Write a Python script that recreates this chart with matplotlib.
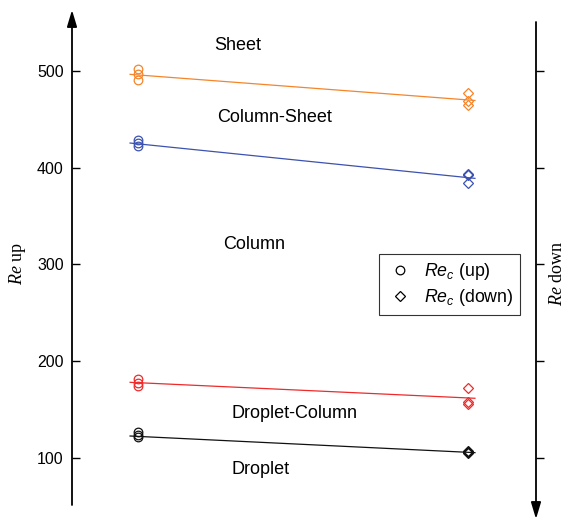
import matplotlib
matplotlib.use("Agg")
import matplotlib.pyplot as plt
from matplotlib.lines import Line2D

plt.rcParams['font.family'] = ['Liberation Sans', 'DejaVu Sans']
plt.rcParams['mathtext.fontset'] = 'custom'
plt.rcParams['mathtext.it'] = 'Liberation Sans:italic'
plt.rcParams['mathtext.rm'] = 'Liberation Sans'
plt.rcParams['mathtext.sf'] = 'Liberation Serif:italic'

# ---- data ----
x_up = 1.0
x_down = 2.0
line_x = [0.976, 2.021]

series_names = ['Sheet', 'Column-Sheet', 'Droplet-Column', 'Droplet']
colors = ['#F5852B', '#3C52AE', '#EE2A2A', '#111111']

sheet_up = [502, 497, 491]
sheet_down = [477, 469, 465]
sheet_line = [496.5, 469.5]

colsheet_up = [429, 425.5, 422.5]
colsheet_down = [393, 392, 384]
colsheet_line = [425.5, 389]

dropcol_up = [182, 178, 174.5]
dropcol_down = [172.5, 158, 155.5]
dropcol_line = [178.2, 161.7]

drop_up = [127, 124, 121.5]
drop_down = [107.5, 106, 105]
drop_line = [122.7, 105.5]

ups = [sheet_up, colsheet_up, dropcol_up, drop_up]
downs = [sheet_down, colsheet_down, dropcol_down, drop_down]
lines = [sheet_line, colsheet_line, dropcol_line, drop_line]

region_labels = ['Sheet', 'Column-Sheet', 'Column', 'Droplet-Column', 'Droplet']
region_pos = [(1.303, 525.8), (1.415, 451.4), (1.352, 321.0), (1.473, 145.5), (1.37, 88.6)]

yticks = [100, 200, 300, 400, 500]

# ---- figure ----
fig = plt.figure(figsize=(5.66, 5.2), dpi=100)
ax = fig.add_axes([72/566, 15/520, 464/566, 483/520])
ax.set_xlim(0.8, 2.206)
ax.set_ylim(51.4, 550.6)

for up, down, ln, c in zip(ups, downs, lines, colors):
    ax.plot(line_x, ln, color=c, lw=0.9, zorder=2)
    ax.plot([x_up]*len(up), up, linestyle='none', marker='o', ms=6.2,
            mfc='none', mec=c, mew=0.9, zorder=3)
    ax.plot([x_down]*len(down), down, linestyle='none', marker='D', ms=5.6,
            mfc='none', mec=c, mew=0.9, zorder=3)

for t, (xx, yy) in zip(region_labels, region_pos):
    ax.text(xx, yy, t, ha='center', va='center', fontsize=13)

for s in ['top', 'bottom', 'left', 'right']:
    ax.spines[s].set_visible(False)

ax.set_xticks([])
ax.set_yticks(yticks)
ax.tick_params(axis='y', left=True, right=False, labelleft=True,
               labelright=False, direction='in', length=6, width=1.0,
               labelsize=11.5, pad=6)

ax2 = ax.twinx()
ax2.set_ylim(ax.get_ylim())
ax2.set_yticks(yticks)
ax2.set_yticklabels([])
ax2.tick_params(axis='y', right=True, direction='out', length=6, width=1.0)
for s in ['top', 'bottom', 'left', 'right']:
    ax2.spines[s].set_visible(False)

# arrows for axes
ax.annotate('', xy=(0, 1 + 12/483), xytext=(0, 0), xycoords='axes fraction',
            textcoords='axes fraction',
            arrowprops=dict(arrowstyle='-|>,head_length=1.0,head_width=0.3',
                            color='black', lw=1.3, shrinkA=0, shrinkB=0),
            annotation_clip=False)
ax.annotate('', xy=(1, -14/483), xytext=(1, 1), xycoords='axes fraction',
            textcoords='axes fraction',
            arrowprops=dict(arrowstyle='-|>,head_length=1.0,head_width=0.3',
                            color='black', lw=1.3, shrinkA=0, shrinkB=0),
            annotation_clip=False)

fig.text(18/566, 1 - 264/520, r'$\mathsf{Re}$ up', family='Liberation Serif',
         fontsize=13, rotation=90, ha='center', va='center')
fig.text(557/566, 1 - 273/520, r'$\mathsf{Re}$ down', family='Liberation Serif',
         fontsize=13, rotation=90, ha='center', va='center')

# legend
handles = [Line2D([], [], linestyle='none', marker='o', ms=6.2, mfc='none', mec='black', mew=0.9),
           Line2D([], [], linestyle='none', marker='D', ms=5.6, mfc='none', mec='black', mew=0.9)]
leg = ax.legend(handles, [r'$Re_c$ (up)', r'$Re_c$ (down)'],
                loc='upper left', bbox_to_anchor=((379-72)/464, (505-254)/483),
                frameon=True, fancybox=False, edgecolor='black', fontsize=12.8,
                handlelength=1.6, handletextpad=0.55, borderpad=0.38,
                borderaxespad=0, labelspacing=0.3)
leg.get_frame().set_linewidth(0.8)

fig.savefig('out.png', dpi=100)
